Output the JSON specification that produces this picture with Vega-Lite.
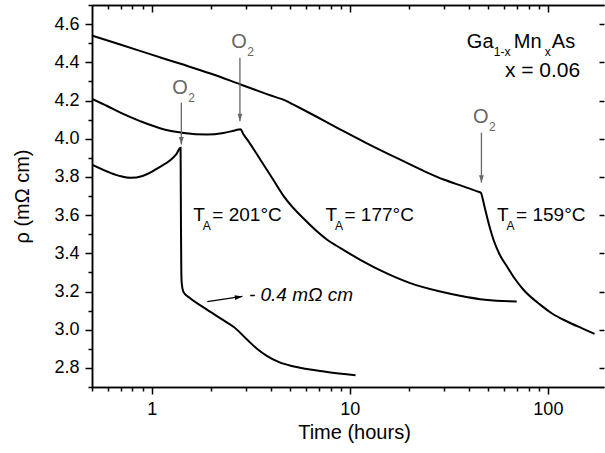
{
  "$schema": "https://vega.github.io/schema/vega-lite/v6.json",
  "width": 512,
  "height": 382,
  "autosize": {"type": "none"},
  "padding": {"left": 92, "top": 5, "right": 1, "bottom": 66},
  "background": "white",
  "config": {
    "view": {"stroke": null},
    "font": "Liberation Sans",
    "axis": {"grid": false, "domainColor": "black", "tickColor": "black", "labelColor": "black", "titleColor": "black", "domainWidth": 1.5, "tickWidth": 1.5, "labelFont": "Liberation Sans", "titleFont": "Liberation Sans", "titleFontWeight": "normal", "labelOverlap": false, "labelFlush": false},
    "text": {"font": "Liberation Sans"}
  },
  "datasets": {
    "curves": [
      {"t": 0.5, "r": 4.54, "s": "159"}, {"t": 0.7, "r": 4.492, "s": "159"}, {"t": 1.0, "r": 4.44, "s": "159"}, {"t": 1.4, "r": 4.392, "s": "159"}, {"t": 2.0, "r": 4.34, "s": "159"}, {"t": 2.81, "r": 4.284, "s": "159"}, {"t": 3.5, "r": 4.248, "s": "159"}, {"t": 4.3, "r": 4.215, "s": "159"}, {"t": 4.65, "r": 4.203, "s": "159"}, {"t": 5.2, "r": 4.178, "s": "159"}, {"t": 6.0, "r": 4.145, "s": "159"}, {"t": 8.98, "r": 4.048, "s": "159"}, {"t": 12, "r": 3.98, "s": "159"}, {"t": 18, "r": 3.89, "s": "159"}, {"t": 24, "r": 3.828, "s": "159"}, {"t": 30, "r": 3.785, "s": "159"}, {"t": 38, "r": 3.748, "s": "159"}, {"t": 44, "r": 3.724, "s": "159"}, {"t": 46.0, "r": 3.716, "s": "159"}, {"t": 46.6, "r": 3.696, "s": "159"}, {"t": 48.3, "r": 3.628, "s": "159"}, {"t": 50.5, "r": 3.548, "s": "159"}, {"t": 53.1, "r": 3.472, "s": "159"}, {"t": 57, "r": 3.395, "s": "159"}, {"t": 62.2, "r": 3.331, "s": "159"}, {"t": 68, "r": 3.268, "s": "159"}, {"t": 75.3, "r": 3.209, "s": "159"}, {"t": 91.7, "r": 3.13, "s": "159"}, {"t": 105, "r": 3.085, "s": "159"}, {"t": 125, "r": 3.043, "s": "159"}, {"t": 148, "r": 3.008, "s": "159"}, {"t": 172, "r": 2.978, "s": "159"},
      {"t": 0.5, "r": 4.209, "s": "177"}, {"t": 0.6, "r": 4.17, "s": "177"}, {"t": 0.7, "r": 4.135, "s": "177"}, {"t": 0.88, "r": 4.091, "s": "177"}, {"t": 1.1, "r": 4.055, "s": "177"}, {"t": 1.455, "r": 4.03, "s": "177"}, {"t": 1.91, "r": 4.022, "s": "177"}, {"t": 2.3, "r": 4.03, "s": "177"}, {"t": 2.6, "r": 4.042, "s": "177"}, {"t": 2.81, "r": 4.05, "s": "177"}, {"t": 2.9, "r": 4.025, "s": "177"}, {"t": 3.04, "r": 3.995, "s": "177"}, {"t": 3.54, "r": 3.89, "s": "177"}, {"t": 4.11, "r": 3.785, "s": "177"}, {"t": 4.65, "r": 3.698, "s": "177"}, {"t": 6.0, "r": 3.57, "s": "177"}, {"t": 7.69, "r": 3.471, "s": "177"}, {"t": 8.98, "r": 3.427, "s": "177"}, {"t": 11.3, "r": 3.366, "s": "177"}, {"t": 15, "r": 3.3, "s": "177"}, {"t": 20.2, "r": 3.244, "s": "177"}, {"t": 28.6, "r": 3.2, "s": "177"}, {"t": 36, "r": 3.178, "s": "177"}, {"t": 45.5, "r": 3.16, "s": "177"}, {"t": 55, "r": 3.152, "s": "177"}, {"t": 69.6, "r": 3.148, "s": "177"},
      {"t": 0.5, "r": 3.864, "s": "201"}, {"t": 0.62, "r": 3.821, "s": "201"}, {"t": 0.7, "r": 3.803, "s": "201"}, {"t": 0.784, "r": 3.795, "s": "201"}, {"t": 0.9, "r": 3.805, "s": "201"}, {"t": 1.0, "r": 3.826, "s": "201"}, {"t": 1.07, "r": 3.845, "s": "201"}, {"t": 1.25, "r": 3.89, "s": "201"}, {"t": 1.33, "r": 3.918, "s": "201"}, {"t": 1.4, "r": 3.952, "s": "201"}, {"t": 1.403, "r": 3.75, "s": "201"}, {"t": 1.407, "r": 3.5, "s": "201"}, {"t": 1.412, "r": 3.3, "s": "201"}, {"t": 1.42, "r": 3.24, "s": "201"}, {"t": 1.45, "r": 3.196, "s": "201"}, {"t": 1.55, "r": 3.168, "s": "201"}, {"t": 1.91, "r": 3.104, "s": "201"}, {"t": 2.3, "r": 3.05, "s": "201"}, {"t": 2.6, "r": 3.014, "s": "201"}, {"t": 3.04, "r": 2.947, "s": "201"}, {"t": 3.4, "r": 2.9, "s": "201"}, {"t": 3.83, "r": 2.862, "s": "201"}, {"t": 4.4, "r": 2.83, "s": "201"}, {"t": 5.23, "r": 2.807, "s": "201"}, {"t": 7.69, "r": 2.779, "s": "201"}, {"t": 10.7, "r": 2.762, "s": "201"}
    ],
    "arrows": [
      {"t": 1.412, "y1": 4.188, "y2": 3.969},
      {"t": 2.79, "y1": 4.424, "y2": 4.091},
      {"t": 46.2, "y1": 4.032, "y2": 3.77}
    ],
    "o2": [
      {"t": 1.272, "r": 4.263},
      {"t": 2.52, "r": 4.507},
      {"t": 41.9, "r": 4.111}
    ],
    "ta": [
      {"t": 1.623, "r": 3.6, "v": "= 201°C"},
      {"t": 7.54, "r": 3.6, "v": "= 177°C"},
      {"t": 55.4, "r": 3.6, "v": "= 159°C"}
    ],
    "note": [
      {"t1": 1.91, "r1": 3.147, "t2": 2.87, "r2": 3.174, "tt": 3.096, "rt": 3.183, "label": "- 0.4 mΩ cm"}
    ],
    "sample": [{"t": 39.0, "r": 4.505}],
    "xval": [{"t": 94.0, "r": 4.355, "label": "x = 0.06"}]
  },
  "layer": [
    {
      "data": {"name": "curves"},
      "mark": {"type": "line", "color": "black", "strokeWidth": 2, "clip": true, "interpolate": "monotone"},
      "encoding": {
        "x": {"field": "t", "type": "quantitative", "scale": {"type": "log", "domain": [0.5, 192], "nice": false},
          "axis": {"orient": "bottom", "values": [1, 10, 100], "format": "d", "tickSize": 7, "labelPadding": 6, "labelFontSize": 18, "title": "Time (hours)", "titleFontSize": 20, "titleX": 262, "titleY": 51, "titleBaseline": "alphabetic", "titleAlign": "center"}},
        "y": {"field": "r", "type": "quantitative", "scale": {"domain": [2.7, 4.7], "nice": false, "zero": false},
          "axis": {"orient": "left", "values": [2.8, 3.0, 3.2, 3.4, 3.6, 3.8, 4.0, 4.2, 4.4, 4.6], "format": ".1f", "tickSize": 7, "labelPadding": 6, "labelFontSize": 18, "title": "ρ (mΩ cm)", "titleFontSize": 20, "titleAngle": -90, "titleX": -64, "titleY": 191, "titleBaseline": "alphabetic", "titleAlign": "center"}},
        "detail": {"field": "s"}
      }
    },
    {
      "data": {"name": "arrows"},
      "mark": {"type": "rule", "color": "#666666", "strokeWidth": 1.3},
      "encoding": {
        "x": {"field": "t", "type": "quantitative", "scale": {"type": "log", "domain": [0.5, 192], "nice": false},
          "axis": {"orient": "bottom", "values": [0.5, 0.6, 0.7, 0.8, 0.9, 2, 3, 4, 5, 6, 7, 8, 9, 20, 30, 40, 50, 60, 70, 80, 90], "tickSize": 4, "labels": false, "title": null}},
        "y": {"field": "y1", "type": "quantitative", "scale": {"domain": [2.7, 4.7], "nice": false, "zero": false},
          "axis": {"orient": "left", "values": [2.7, 2.9, 3.1, 3.3, 3.5, 3.7, 3.9, 4.1, 4.3, 4.5, 4.7], "tickSize": 4, "labels": false, "title": null}},
        "y2": {"field": "y2"}
      }
    },
    {
      "data": {"name": "arrows"},
      "mark": {"type": "point", "shape": "M0,0L-0.32,-1L0.32,-1Z", "filled": true, "size": 225, "color": "#666666", "opacity": 1},
      "encoding": {
        "x": {"field": "t", "type": "quantitative", "scale": {"type": "log", "domain": [0.5, 192], "nice": false},
          "axis": {"orient": "top", "values": [1, 10, 100], "tickSize": -7, "labels": false, "title": null}},
        "y": {"field": "y2", "type": "quantitative", "scale": {"domain": [2.7, 4.7], "nice": false, "zero": false},
          "axis": {"orient": "right", "values": [2.8, 3.0, 3.2, 3.4, 3.6, 3.8, 4.0, 4.2, 4.4, 4.6], "tickSize": -5, "labels": false, "domain": false, "title": null}}
      }
    },
    {
      "data": {"name": "o2"},
      "mark": {"type": "text", "text": "O", "align": "left", "baseline": "middle", "fontSize": 20, "color": "#666666"},
      "encoding": {
        "x": {"field": "t", "type": "quantitative", "scale": {"type": "log", "domain": [0.5, 192], "nice": false},
          "axis": {"orient": "top", "values": [0.6, 0.7, 0.8, 0.9, 2, 3, 4, 5, 6, 7, 8, 9, 20, 30, 40, 50, 60, 70, 80, 90], "tickSize": -4, "labels": false, "title": null}},
        "y": {"field": "r", "type": "quantitative", "scale": {"domain": [2.7, 4.7], "nice": false, "zero": false}, "axis": null}
      }
    },
    {
      "data": {"name": "o2"},
      "mark": {"type": "text", "text": "2", "align": "left", "baseline": "middle", "fontSize": 12, "dx": 16, "dy": 10, "color": "#666666"},
      "encoding": {
        "x": {"field": "t", "type": "quantitative", "scale": {"type": "log", "domain": [0.5, 192], "nice": false}, "axis": null},
        "y": {"field": "r", "type": "quantitative", "scale": {"domain": [2.7, 4.7], "nice": false, "zero": false}, "axis": null}
      }
    },
    {
      "data": {"name": "ta"},
      "mark": {"type": "text", "text": "T", "align": "left", "baseline": "middle", "fontSize": 19, "color": "black"},
      "encoding": {
        "x": {"field": "t", "type": "quantitative", "scale": {"type": "log", "domain": [0.5, 192], "nice": false}, "axis": null},
        "y": {"field": "r", "type": "quantitative", "scale": {"domain": [2.7, 4.7], "nice": false, "zero": false}, "axis": null}
      }
    },
    {
      "data": {"name": "ta"},
      "mark": {"type": "text", "text": "A", "align": "left", "baseline": "middle", "fontSize": 12, "dx": 9.5, "dy": 11, "color": "black"},
      "encoding": {
        "x": {"field": "t", "type": "quantitative", "scale": {"type": "log", "domain": [0.5, 192], "nice": false}, "axis": null},
        "y": {"field": "r", "type": "quantitative", "scale": {"domain": [2.7, 4.7], "nice": false, "zero": false}, "axis": null}
      }
    },
    {
      "data": {"name": "ta"},
      "mark": {"type": "text", "align": "left", "baseline": "middle", "fontSize": 19, "dx": 19, "color": "black"},
      "encoding": {
        "x": {"field": "t", "type": "quantitative", "scale": {"type": "log", "domain": [0.5, 192], "nice": false}, "axis": null},
        "y": {"field": "r", "type": "quantitative", "scale": {"domain": [2.7, 4.7], "nice": false, "zero": false}, "axis": null},
        "text": {"field": "v"}
      }
    },
    {
      "data": {"name": "note"},
      "mark": {"type": "rule", "color": "black", "strokeWidth": 1.3},
      "encoding": {
        "x": {"field": "t1", "type": "quantitative", "scale": {"type": "log", "domain": [0.5, 192], "nice": false}, "axis": null},
        "x2": {"field": "t2"},
        "y": {"field": "r1", "type": "quantitative", "scale": {"domain": [2.7, 4.7], "nice": false, "zero": false}, "axis": null},
        "y2": {"field": "r2"}
      }
    },
    {
      "data": {"name": "note"},
      "mark": {"type": "point", "shape": "M0,0L-1,-0.32L-1,0.32Z", "filled": true, "size": 225, "angle": -8, "color": "black", "opacity": 1},
      "encoding": {
        "x": {"field": "t2", "type": "quantitative", "scale": {"type": "log", "domain": [0.5, 192], "nice": false}, "axis": null},
        "y": {"field": "r2", "type": "quantitative", "scale": {"domain": [2.7, 4.7], "nice": false, "zero": false}, "axis": null}
      }
    },
    {
      "data": {"name": "note"},
      "mark": {"type": "text", "align": "left", "baseline": "middle", "fontSize": 19, "fontStyle": "italic", "color": "black"},
      "encoding": {
        "x": {"field": "tt", "type": "quantitative", "scale": {"type": "log", "domain": [0.5, 192], "nice": false}, "axis": null},
        "y": {"field": "rt", "type": "quantitative", "scale": {"domain": [2.7, 4.7], "nice": false, "zero": false}, "axis": null},
        "text": {"field": "label"}
      }
    },
    {
      "data": {"name": "sample"},
      "mark": {"type": "text", "text": "Ga", "align": "left", "baseline": "middle", "fontSize": 20, "color": "black"},
      "encoding": {
        "x": {"field": "t", "type": "quantitative", "scale": {"type": "log", "domain": [0.5, 192], "nice": false}, "axis": null},
        "y": {"field": "r", "type": "quantitative", "scale": {"domain": [2.7, 4.7], "nice": false, "zero": false}, "axis": null}
      }
    },
    {
      "data": {"name": "sample"},
      "mark": {"type": "text", "text": "1-x", "align": "left", "baseline": "middle", "fontSize": 12, "dx": 27, "dy": 10, "color": "black"},
      "encoding": {
        "x": {"field": "t", "type": "quantitative", "scale": {"type": "log", "domain": [0.5, 192], "nice": false}, "axis": null},
        "y": {"field": "r", "type": "quantitative", "scale": {"domain": [2.7, 4.7], "nice": false, "zero": false}, "axis": null}
      }
    },
    {
      "data": {"name": "sample"},
      "mark": {"type": "text", "text": "Mn", "align": "left", "baseline": "middle", "fontSize": 20, "dx": 47, "color": "black"},
      "encoding": {
        "x": {"field": "t", "type": "quantitative", "scale": {"type": "log", "domain": [0.5, 192], "nice": false}, "axis": null},
        "y": {"field": "r", "type": "quantitative", "scale": {"domain": [2.7, 4.7], "nice": false, "zero": false}, "axis": null}
      }
    },
    {
      "data": {"name": "sample"},
      "mark": {"type": "text", "text": "x", "align": "left", "baseline": "middle", "fontSize": 12, "dx": 78, "dy": 10, "color": "black"},
      "encoding": {
        "x": {"field": "t", "type": "quantitative", "scale": {"type": "log", "domain": [0.5, 192], "nice": false}, "axis": null},
        "y": {"field": "r", "type": "quantitative", "scale": {"domain": [2.7, 4.7], "nice": false, "zero": false}, "axis": null}
      }
    },
    {
      "data": {"name": "sample"},
      "mark": {"type": "text", "text": "As", "align": "left", "baseline": "middle", "fontSize": 20, "dx": 85, "color": "black"},
      "encoding": {
        "x": {"field": "t", "type": "quantitative", "scale": {"type": "log", "domain": [0.5, 192], "nice": false}, "axis": null},
        "y": {"field": "r", "type": "quantitative", "scale": {"domain": [2.7, 4.7], "nice": false, "zero": false}, "axis": null}
      }
    },
    {
      "data": {"name": "xval"},
      "mark": {"type": "text", "align": "center", "baseline": "middle", "fontSize": 21, "color": "black"},
      "encoding": {
        "x": {"field": "t", "type": "quantitative", "scale": {"type": "log", "domain": [0.5, 192], "nice": false}, "axis": null},
        "y": {"field": "r", "type": "quantitative", "scale": {"domain": [2.7, 4.7], "nice": false, "zero": false}, "axis": null},
        "text": {"field": "label"}
      }
    }
  ],
  "resolve": {"axis": {"x": "independent", "y": "independent"}}
}
